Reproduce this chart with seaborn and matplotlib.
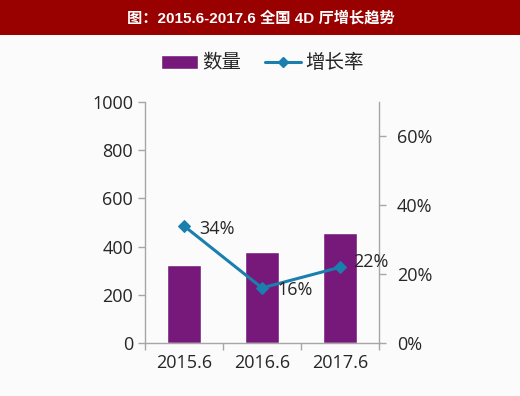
import matplotlib
matplotlib.use("Agg")
import matplotlib.pyplot as plt
import seaborn as sns
import numpy as np
import pandas as pd
from matplotlib.patches import Rectangle
from matplotlib.lines import Line2D
from matplotlib.ticker import FuncFormatter

categories = ["2015.6", "2016.6", "2017.6"]
counts = [325, 378, 456]
growth = [0.34, 0.16, 0.22]
growth_labels = ["34%", "16%", "22%"]
left_ticks = [0, 200, 400, 600, 800, 1000]
right_ticks = [0, 0.2, 0.4, 0.6]
title = "图：2015.6-2017.6 全国 4D 厅增长趋势"

sns.set_theme(style="white")
plt.rcParams['font.family'] = ['Open Sans', 'Noto Sans CJK SC', 'DejaVu Sans']

bar_color = "#76197a"
line_color = "#1a7fae"
axis_color = "#a6a6a6"
text_color = "#262626"
cjk = ['Noto Sans CJK SC', 'DejaVu Sans']

fig = plt.figure(figsize=(5.2, 3.96), dpi=100)
fig.patch.set_facecolor("#fbfbfb")
# title band
fig.patches.append(Rectangle((0, 1 - 35 / 396), 1, 35 / 396, transform=fig.transFigure,
                             facecolor="#990000", edgecolor="none", zorder=0))
fig.text(0.502, 1 - 18 / 396, title, color="white", fontsize=11, fontweight="bold",
         ha="center", va="center", family=['Liberation Sans', 'Noto Sans CJK SC'])

ax = fig.add_axes([145 / 520, 1 - 343 / 396, (379 - 145) / 520, (343 - 102) / 396])
ax.set_facecolor("none")
df = pd.DataFrame({"cat": categories, "count": counts})
sns.barplot(data=df, x="cat", y="count", color=bar_color, width=0.43, saturation=1,
            ax=ax, zorder=2)
ax.set_xlim(-0.5, 2.5)
ax.set_ylim(0, 1000)
ax.set_yticks(left_ticks)
ax.set_xlabel("")
ax.set_ylabel("")
ax.tick_params(axis="y", labelsize=13, colors=text_color, length=5, color=axis_color, width=1, direction="out", left=True)
ax.tick_params(axis="x", which="major", length=0, labelsize=13, colors=text_color, pad=8)
ax.set_xticks([-0.5, 0.5, 1.5, 2.5], minor=True)
ax.tick_params(axis="x", which="minor", length=5, color=axis_color, width=1, bottom=True)
for s in ["top", "right"]:
    ax.spines[s].set_visible(False)
for s in ["left", "bottom"]:
    ax.spines[s].set_color(axis_color)
    ax.spines[s].set_linewidth(1)

ax2 = ax.twinx()
ldf = pd.DataFrame({"x": np.arange(len(categories)), "g": growth})
sns.lineplot(data=ldf, x="x", y="g", color=line_color, linewidth=2.2, marker="D",
             markersize=6.5, markeredgecolor=line_color, ax=ax2, zorder=3)
ax2.set_ylim(0, 0.7)
ax2.set_yticks(right_ticks)
ax2.yaxis.set_major_formatter(FuncFormatter(lambda v, p: f"{v * 100:.0f}%"))
ax2.set_xlabel("")
ax2.set_ylabel("")
ax2.tick_params(axis="y", labelsize=13, colors=text_color, length=5, color=axis_color, width=1, right=True, pad=8)
for s in ["top", "left", "bottom"]:
    ax2.spines[s].set_visible(False)
ax2.spines["right"].set_color(axis_color)
ax2.spines["right"].set_linewidth(1)
ax2.set_xlim(-0.5, 2.5)

offsets = [(0.2, -0.01), (0.2, -0.006), (0.17, 0.015)]
for i, (g, lab) in enumerate(zip(growth, growth_labels)):
    ax2.text(i + offsets[i][0], g + offsets[i][1], lab, fontsize=13, color=text_color,
             ha="left", va="center")

handles = [Rectangle((0, 0), 1, 1, facecolor=bar_color),
           Line2D([0], [0], color=line_color, linewidth=2.2, marker="D", markersize=5)]
fig.legend(handles, ["数量", "增长率"], loc="center", bbox_to_anchor=(0.505, 1 - 63 / 396),
           ncol=2, frameon=False, handlelength=1.9, columnspacing=1.2,
           handletextpad=0.2, labelcolor=text_color, prop={'family': cjk, 'size': 14})

fig.savefig("out.png", dpi=100, facecolor=fig.get_facecolor())
